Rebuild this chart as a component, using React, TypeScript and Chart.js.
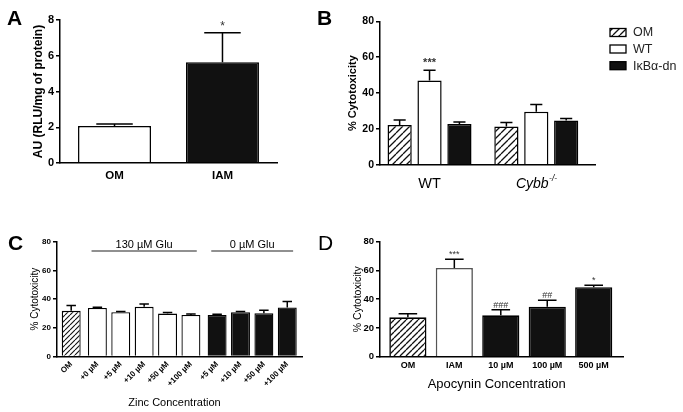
import React, { useEffect, useRef } from 'react';
import { Chart, registerables } from 'chart.js';

Chart.register(...registerables);

const FONT = '"Liberation Sans", Arial, Helvetica, sans-serif';
const INK = '#000';
const DARK = '#111';

// ---------- Panel A ----------
const aCategories = ['OM', 'IAM'];
const aValues = [2.07, 5.63];
const aErrors = [2.18, 7.29];
const aNotes = ['', '*'];

// ---------- Panel B ----------
const bGroups = ['WT', 'Cybb'];
const bSeries = ['OM', 'WT', 'I\u03BAB\u03B1-dn'];
const bOM = [22.2, 21.5];
const bOMErr = [25.0, 23.7];
const bWT = [47.0, 29.6];
const bWTErr = [52.8, 33.7];
const bIkb = [22.8, 24.8];
const bIkbErr = [23.9, 25.9];
const bWTNotes = ['***', ''];

// ---------- Panel C ----------
const cCategories = ['OM', '+0 \u00B5M', '+5 \u00B5M', '+10 \u00B5M', '+50 \u00B5M', '+100 \u00B5M', '+5 \u00B5M', '+10 \u00B5M', '+50 \u00B5M', '+100 \u00B5M'];
const cGroupOf = [0, 1, 1, 1, 1, 1, 2, 2, 2, 2];
const cValues = [31.8, 33.8, 30.9, 34.6, 29.9, 29.0, 29.0, 30.9, 30.2, 34.1];
const cErrors = [35.5, 34.3, 31.4, 36.5, 30.6, 29.6, 29.5, 31.3, 32.3, 38.3];
const cBrackets = ['', '130 \u00B5M Glu', '0 \u00B5M Glu'];
const cGroupGap = 0.12;

// ---------- Panel D ----------
const dCategories = ['OM', 'IAM', '10 \u00B5M', '100 \u00B5M', '500 \u00B5M'];
const dValues = [27.4, 61.7, 28.8, 34.8, 48.3];
const dErrors = [29.9, 67.8, 32.7, 39.2, 49.7];
const dNotes = ['', '***', '###', '##', '*'];

function makeHatch(size: number, lw: number): any {
  const c = document.createElement('canvas');
  c.width = size;
  c.height = size;
  const g = c.getContext('2d');
  if (!g) return '#ccc';
  g.fillStyle = '#fff';
  g.fillRect(0, 0, size, size);
  g.strokeStyle = '#111';
  g.lineWidth = lw;
  g.beginPath();
  for (const o of [-size, 0, size]) {
    g.moveTo(o, size);
    g.lineTo(o + size, 0);
  }
  g.stroke();
  return g.createPattern(c, 'repeat') || '#ccc';
}

const common: any = {
  responsive: false,
  animation: false,
  events: [],
  plugins: { legend: { display: false }, tooltip: { enabled: false } },
};

function xLinear(positions: number[], labels: string[], min: number, max: number, h: number, tickOpts: any) {
  return {
    type: 'linear',
    min,
    max,
    bounds: 'data',
    offset: false,
    afterBuildTicks: (s: any) => {
      s.ticks = positions.map((v) => ({ value: v }));
    },
    afterFit: (s: any) => {
      s.height = h;
    },
    grid: { display: false, drawTicks: false },
    border: { color: INK, width: 1.5, z: 1 },
    ticks: { autoSkip: false, color: INK, callback: (_v: any, i: number) => labels[i], ...tickOpts },
  };
}

function yLinear(max: number, step: number, size: number, w: number) {
  return {
    type: 'linear',
    min: 0,
    max,
    afterFit: (s: any) => {
      s.width = w;
    },
    ticks: { stepSize: step, color: INK, padding: 2, font: { family: FONT, size, weight: 'bold' } },
    grid: { drawOnChartArea: false, color: INK, lineWidth: 1.5, tickLength: 4 },
    border: { color: INK, width: 1.5, z: 1 },
  };
}

function drawErrorBars(chart: any, ctx: CanvasRenderingContext2D, dsIndex: number, errors: number[], notes: string[] | null, noteFont: string, gap: number) {
  const meta = chart.getDatasetMeta(dsIndex);
  const ys = chart.scales.y;
  ctx.save();
  ctx.strokeStyle = INK;
  ctx.lineWidth = 1.5;
  meta.data.forEach((bar: any, i: number) => {
    const e = errors[i];
    if (e == null) return;
    const ey = ys.getPixelForValue(e);
    const half = bar.width / 4;
    ctx.beginPath();
    ctx.moveTo(bar.x, bar.y);
    ctx.lineTo(bar.x, ey);
    ctx.moveTo(bar.x - half, ey);
    ctx.lineTo(bar.x + half, ey);
    ctx.stroke();
    if (notes && notes[i]) {
      ctx.fillStyle = '#333';
      ctx.font = noteFont;
      ctx.textAlign = 'center';
      ctx.textBaseline = 'alphabetic';
      ctx.fillText(notes[i], bar.x, ey - gap);
    }
  });
  ctx.restore();
}

function drawRotated(ctx: CanvasRenderingContext2D, text: string, x: number, y: number, font: string) {
  ctx.save();
  ctx.translate(x, y);
  ctx.rotate(-Math.PI / 2);
  ctx.font = font;
  ctx.textAlign = 'center';
  ctx.textBaseline = 'middle';
  ctx.fillStyle = INK;
  ctx.fillText(text, 0, 0);
  ctx.restore();
}

function drawText(ctx: CanvasRenderingContext2D, text: string, x: number, y: number, font: string, align: CanvasTextAlign = 'left') {
  ctx.save();
  ctx.font = font;
  ctx.textAlign = align;
  ctx.textBaseline = 'alphabetic';
  ctx.fillStyle = INK;
  ctx.fillText(text, x, y);
  ctx.restore();
}

const deco = (fn: (chart: any, ctx: CanvasRenderingContext2D) => void) => ({
  id: 'deco',
  afterDatasetsDraw(chart: any) {
    const ctx = chart.ctx;
    ctx.save();
    fn(chart, ctx);
    ctx.restore();
  },
});

// ---------- builders ----------
function buildA(): any {
  const positions = aCategories.map((_, i) => i);
  return {
    type: 'bar',
    data: {
      datasets: [
        {
          data: positions.map((x, i) => ({ x, y: aValues[i] })),
          backgroundColor: ['#fff', DARK],
          borderColor: INK,
          borderWidth: 1.5,
          barPercentage: 0.676,
          categoryPercentage: 1,
        },
      ],
    },
    options: {
      ...common,
      layout: { padding: { left: 30, top: 20, right: 63, bottom: 7 } },
      scales: {
        x: xLinear(positions, aCategories, -0.505, 1.505, 30, { font: { family: FONT, size: 11.5, weight: 'bold' }, padding: 6, maxRotation: 0 }),
        y: yLinear(8, 2, 11, 30),
      },
    },
    plugins: [
      deco((chart, ctx) => {
        drawErrorBars(chart, ctx, 0, aErrors, aNotes, `12px ${FONT}`, 2.7);
        const a = chart.chartArea;
        drawRotated(ctx, 'AU (RLU/mg of protein)', a.left - 21, (a.top + a.bottom) / 2, `bold 12px ${FONT}`);
        drawText(ctx, 'A', 7, 25, `bold 21px ${FONT}`);
        drawText(ctx, 'B', 317, 25, `bold 21px ${FONT}`);
      }),
    ],
  };
}

function buildB(): any {
  const hatch = makeHatch(7, 1.3);
  const positions = bGroups.map((_, i) => i);
  const series = [
    { values: bOM, errors: bOMErr, fill: hatch, notes: null as string[] | null },
    { values: bWT, errors: bWTErr, fill: '#fff', notes: bWTNotes },
    { values: bIkb, errors: bIkbErr, fill: DARK, notes: null as string[] | null },
  ];
  return {
    type: 'bar',
    data: {
      datasets: series.map((s, k) => ({
        label: bSeries[k],
        data: positions.map((x, i) => ({ x, y: s.values[i] })),
        backgroundColor: s.fill,
        borderColor: INK,
        borderWidth: 1.5,
        barPercentage: 0.81,
        categoryPercentage: 0.84,
      })),
    },
    options: {
      ...common,
      layout: { padding: { left: 15, top: 21.3, right: 88, bottom: 35 } },
      scales: {
        x: xLinear(positions, bGroups, -0.464, 1.55, 0, { display: false }),
        y: yLinear(80, 20, 10.5, 25),
      },
    },
    plugins: [
      deco((chart, ctx) => {
        series.forEach((s, k) => drawErrorBars(chart, ctx, k, s.errors, s.notes, `bold 11px ${FONT}`, 4));
        const a = chart.chartArea;
        const xs = chart.scales.x;
        drawRotated(ctx, '% Cytotoxicity', a.left - 27, (a.top + a.bottom) / 2, `bold 11px ${FONT}`);
        // group labels
        const base = 188;
        drawText(ctx, bGroups[0], xs.getPixelForValue(positions[0]), base, `14.5px ${FONT}`, 'center');
        ctx.save();
        ctx.font = `italic 14px ${FONT}`;
        const w1 = ctx.measureText(bGroups[1]).width;
        ctx.font = `italic 8.5px ${FONT}`;
        const w2 = ctx.measureText('-/-').width;
        const start = xs.getPixelForValue(positions[1]) - (w1 + w2) / 2;
        ctx.restore();
        drawText(ctx, bGroups[1], start, base, `italic 14px ${FONT}`);
        drawText(ctx, '-/-', start + w1 + 0.5, base - 7, `italic 8.5px ${FONT}`);
        // legend
        const rows = [28.5, 45, 61.7];
        series.forEach((s, k) => {
          ctx.save();
          ctx.fillStyle = s.fill as any;
          ctx.fillRect(270, rows[k], 16, 8);
          ctx.strokeStyle = INK;
          ctx.lineWidth = 1.3;
          ctx.strokeRect(270, rows[k], 16, 8);
          ctx.restore();
          ctx.save();
          ctx.font = `12.5px ${FONT}`;
          ctx.fillStyle = '#222';
          ctx.textBaseline = 'middle';
          ctx.fillText(bSeries[k], 293, rows[k] + 4.5);
          ctx.restore();
        });
      }),
    ],
  };
}

function buildC(): any {
  const hatch = makeHatch(5, 1.1);
  const positions = cCategories.map((_, i) => i + cGroupOf[i] * cGroupGap);
  const fills = cGroupOf.map((g) => (g === 0 ? hatch : g === 1 ? '#fff' : DARK));
  return {
    type: 'bar',
    data: {
      datasets: [
        {
          data: positions.map((x, i) => ({ x, y: cValues[i] })),
          backgroundColor: fills,
          borderColor: INK,
          borderWidth: 1.3,
          barPercentage: 0.81,
          categoryPercentage: 1,
        },
      ],
    },
    options: {
      ...common,
      layout: { padding: { left: 37, top: 41.7, right: 38, bottom: 10.5 } },
      scales: {
        x: xLinear(positions, cCategories, -0.607, 9.87, 45, { font: { family: FONT, size: 8, weight: 'bold' }, padding: 3, minRotation: 45, maxRotation: 45 }),
        y: yLinear(80, 20, 8, 20),
      },
    },
    plugins: [
      deco((chart, ctx) => {
        drawErrorBars(chart, ctx, 0, cErrors, null, `10px ${FONT}`, 2);
        const a = chart.chartArea;
        const xs = chart.scales.x;
        drawRotated(ctx, '% Cytotoxicity', a.left - 22, (a.top + a.bottom) / 2, `10px ${FONT}`);
        // group brackets
        const unit = xs.getPixelForValue(1) - xs.getPixelForValue(0);
        cBrackets.forEach((label, g) => {
          if (!label) return;
          const idx = positions.filter((_, i) => cGroupOf[i] === g);
          const x1 = xs.getPixelForValue(idx[0]) - unit * 0.25;
          const x2 = xs.getPixelForValue(idx[idx.length - 1]) + unit * 0.25;
          ctx.save();
          ctx.strokeStyle = '#222';
          ctx.lineWidth = 1.2;
          ctx.beginPath();
          ctx.moveTo(x1, 51);
          ctx.lineTo(x2, 51);
          ctx.stroke();
          ctx.restore();
          drawText(ctx, label, (x1 + x2) / 2, 47.5, `11px ${FONT}`, 'center');
        });
        drawText(ctx, 'Zinc Concentration', (a.left + a.right) / 2 - 5, 206, `11px ${FONT}`, 'center');
        drawText(ctx, 'C', 8, 50, `bold 21px ${FONT}`);
        drawText(ctx, 'D', 318, 50, `21px ${FONT}`);
      }),
    ],
  };
}

function buildD(): any {
  const hatch = makeHatch(6, 1.3);
  const positions = dCategories.map((_, i) => i);
  const fills = [hatch, '#fff', DARK, DARK, DARK];
  const borders = [INK, '#555', INK, INK, INK];
  return {
    type: 'bar',
    data: {
      datasets: [
        {
          data: positions.map((x, i) => ({ x, y: dValues[i] })),
          backgroundColor: fills,
          borderColor: borders,
          borderWidth: 1.6,
          barPercentage: 0.8,
          categoryPercentage: 1,
        },
      ],
    },
    options: {
      ...common,
      layout: { padding: { left: 15, top: 41.7, right: 59.7, bottom: 35.3 } },
      scales: {
        x: xLinear(positions, dCategories, -0.6, 4.637, 20, { font: { family: FONT, size: 9, weight: 'bold' }, padding: 3, maxRotation: 0 }),
        y: yLinear(80, 20, 9.5, 25),
      },
    },
    plugins: [
      deco((chart, ctx) => {
        drawErrorBars(chart, ctx, 0, dErrors, dNotes, `9px ${FONT}`, 2);
        const a = chart.chartArea;
        drawRotated(ctx, '% Cytotoxicity', a.left - 22, (a.top + a.bottom) / 2, `10.5px ${FONT}`);
        drawText(ctx, 'Apocynin Concentration', (a.left + a.right) / 2 - 5, 188, `13px ${FONT}`, 'center');
      }),
    ],
  };
}

function Panel(props: { left: number; top: number; width: number; height: number; build: () => any }) {
  const ref = useRef<HTMLCanvasElement>(null);
  useEffect(() => {
    if (!ref.current) return;
    const chart = new Chart(ref.current, props.build());
    return () => chart.destroy();
  }, []);
  return (
    <canvas
      ref={ref}
      width={props.width}
      height={props.height}
      style={{ position: 'absolute', left: props.left, top: props.top, width: props.width, height: props.height }}
    />
  );
}

export default function App() {
  return (
    <div style={{ position: 'absolute', left: 0, top: 0, width: 683, height: 412, background: '#fff', overflow: 'hidden' }}>
      <Panel left={0} top={0} width={340} height={200} build={buildA} />
      <Panel left={340} top={0} width={343} height={200} build={buildB} />
      <Panel left={0} top={200} width={340} height={212} build={buildC} />
      <Panel left={340} top={200} width={343} height={212} build={buildD} />
    </div>
  );
}
